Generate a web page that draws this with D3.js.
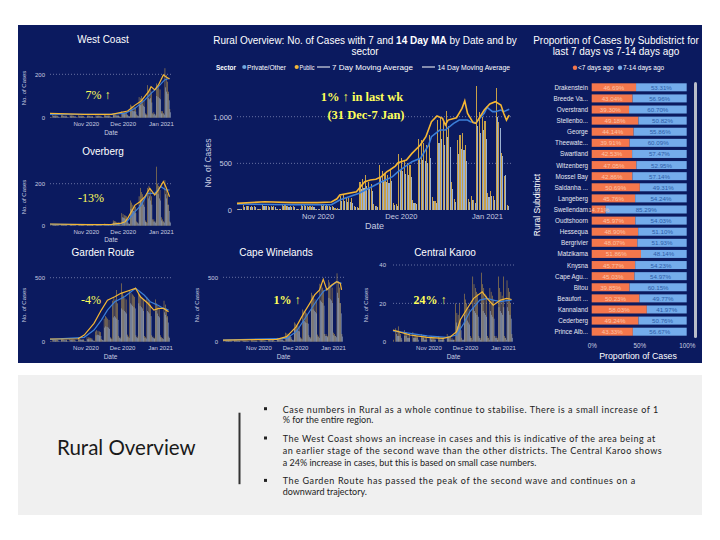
<!DOCTYPE html>
<html><head><meta charset="utf-8">
<script src="https://cdn.jsdelivr.net/npm/d3@7"></script>
<style>body{margin:0;background:#fff}svg{display:block}</style>
</head><body>
<svg id="c" width="720" height="540"></svg>
<script>
// ---------- DATA (daily from 2020-10-03) ----------
const startDay = new Date(2020, 9, 3);
const endDay = new Date(2021, 0, 10);
const monthTicks = ["2020-11-01", "2020-12-01", "2021-01-01"];

const mainPublic = [12,8,50,48,45,42,38, 10,7,52,46,44,42,40, 12,9,55,50,47,44,40, 11,8,50,52,48,45,42, 14,9,56,52,50,47,44, 25,18,150,160,140,130,125, 40,30,300,330,380,300,280, 60,45,480,420,400,380,430, 80,60,600,560,520,500,480, 110,80,760,750,720,700,800, 140,100,960,1000,940,1060,900, 300,120,750,800,830,700,120, 150,110,1325,1050,1000,950,180, 200,150,1310,940,610,360,50];
const mainPrivate = [8,6,35,40,36,34,30, 8,5,40,38,35,33,28, 9,7,42,40,35,32,30, 8,6,38,40,36,34,31, 10,7,42,40,38,36,33, 15,12,95,100,90,85,80, 28,22,220,240,260,220,200, 40,32,350,320,300,290,310, 55,45,430,420,390,370,350, 80,60,560,540,520,500,560, 100,75,720,760,700,780,680, 220,90,600,650,640,520,90, 110,80,900,820,860,760,140, 150,110,1000,880,580,380,40];
const mainMA7 = [[0,71],[10,89],[20,79],[29,79],[34,86],[36,120],[37,161],[43,196],[44,232],[46,304],[48,321],[50,329],[52,357],[54,411],[55,429],[57,471],[58,507],[61,536],[63,607],[66,696],[68,786],[70,946],[72,1007],[74,982],[75,911],[76,964],[79,989],[81,1089],[82,1171],[83,1036],[85,936],[86,929],[89,1071],[91,1136],[93,1161],[95,1125],[96,1036],[97,964],[98,1018]];
const mainMA14 = [[0,64],[20,57],[34,57],[37,107],[44,179],[51,286],[56,357],[58,411],[63,518],[66,554],[69,696],[70,786],[73,857],[75,857],[78,929],[80,964],[83,964],[84,946],[86,936],[89,1036],[90,1100],[92,1054],[93,1054],[95,1071],[96,1054],[98,1079]];

const wcPublic = [3,2,14,12,11,10,9, 3,2,13,12,10,10,9, 3,2,12,11,10,9,8, 2,2,11,10,10,9,8, 2,2,10,10,9,9,8, 2,2,11,10,10,9,9, 3,2,13,12,12,11,10, 4,3,18,16,15,14,13, 6,4,30,28,26,25,24, 10,7,60,55,52,50,48, 15,10,95,90,100,85,80, 20,15,150,130,140,120,20, 25,15,158,135,140,130,30, 30,20,228,197,166,120,40];
const wcPrivate = [2,1,8,7,6,6,5, 2,1,7,7,6,5,5, 2,1,7,6,6,5,5, 2,1,6,6,5,5,4, 1,1,6,6,5,5,4, 1,1,6,6,6,5,5, 2,1,8,7,7,6,6, 3,2,11,10,9,9,8, 4,3,18,17,16,15,14, 7,5,35,32,30,30,28, 10,7,60,58,62,55,50, 14,10,90,85,90,70,15, 18,10,100,95,90,85,20, 20,14,140,120,110,80,25];
const wcMA7 = [[0,20],[28,15],[50,15],[63,31],[69,58],[74,77],[80,120],[82,143],[85,128],[88,151],[92,197],[94,189],[97,178]];
const wcMA14 = [[0,15],[50,17],[61,20],[69,43],[77,82],[82,112],[88,143],[93,174],[97,182]];

const obPublic = [2,1,8,7,6,6,5, 2,1,7,7,6,5,5, 1,1,7,6,6,5,5, 1,1,6,6,5,5,4, 1,1,6,6,5,5,5, 2,1,8,7,7,6,6, 2,2,10,9,9,8,8, 4,3,25,22,20,18,16, 8,6,60,55,50,48,45, 15,10,120,110,100,95,90, 20,15,140,180,160,150,130, 25,18,180,190,170,140,30, 30,20,281,200,190,170,40, 30,20,217,180,150,100,20];
const obPrivate = [1,1,5,4,4,3,3, 1,1,4,4,3,3,3, 1,1,4,4,3,3,3, 1,1,4,3,3,3,2, 1,1,4,3,3,3,3, 1,1,5,4,4,4,3, 1,1,6,6,5,5,5, 3,2,15,14,12,11,10, 6,4,40,38,35,32,30, 10,8,80,75,70,65,60, 15,10,100,120,110,100,90, 18,12,130,140,120,100,20, 20,14,160,150,130,120,25, 20,15,150,130,100,70,15];
const obMA7 = [[0,8],[30,5],[50,6],[58,12],[61,19],[63,35],[69,98],[73,114],[77,138],[81,178],[85,146],[88,170],[92,210],[94,186],[97,138]];
const obMA14 = [[0,7],[50,5],[58,10],[63,24],[69,67],[74,98],[79,154],[85,154],[90,186],[94,170],[97,170]];

const grPublic = [4,3,20,18,17,16,15, 4,3,22,20,18,17,16, 4,3,20,19,18,17,16, 5,4,25,24,22,20,19, 6,5,35,34,32,30,28, 10,8,80,90,85,80,75, 20,15,180,200,190,180,170, 35,25,320,340,330,404,300, 45,35,456,380,360,340,330, 55,40,404,380,370,360,350, 50,40,380,370,360,340,330, 45,35,350,330,310,290,50, 40,30,330,300,280,260,50, 35,28,320,290,260,200,40];
const grPrivate = [3,2,12,11,10,10,9, 3,2,13,12,11,10,10, 3,2,12,12,11,10,9, 3,2,15,14,13,12,11, 4,3,20,19,18,17,16, 7,5,50,55,52,48,45, 14,10,110,120,115,110,100, 25,18,190,200,190,180,170, 30,25,260,250,240,230,220, 40,30,300,290,280,270,260, 35,28,300,280,270,260,240, 30,25,240,230,220,200,35, 28,22,240,220,200,190,35, 25,20,230,210,190,150,30];
const grMA7 = [[0,21],[23,23],[28,52],[36,143],[42,247],[47,325],[53,351],[58,378],[66,404],[70,417],[74,351],[80,300],[85,247],[89,260],[93,260],[97,234]];
const grMA14 = [[0,18],[28,34],[36,91],[42,169],[47,247],[53,312],[61,351],[70,417],[77,365],[82,312],[88,286],[93,260],[97,247]];

const cwPublic = [3,2,12,11,10,9,8, 3,2,12,10,10,9,8, 3,2,11,10,9,9,8, 3,2,12,11,10,10,9, 3,2,14,13,12,11,10, 4,3,18,17,16,15,14, 6,4,30,28,26,25,24, 10,8,70,65,60,55,52, 20,15,150,140,130,125,120, 35,25,250,240,230,220,210, 50,35,380,360,340,330,320, 55,40,450,440,420,400,60, 60,45,480,460,440,420,70, 60,45,531,470,420,300,60];
const cwPrivate = [2,1,8,7,7,6,6, 2,1,7,7,6,6,5, 2,1,7,6,6,5,5, 2,1,8,7,7,6,6, 2,2,9,8,8,7,7, 3,2,12,11,10,10,9, 4,3,20,18,17,16,15, 7,5,45,42,40,38,35, 14,10,100,95,90,85,80, 25,18,170,160,150,145,140, 35,25,260,250,240,230,220, 40,30,320,310,300,280,45, 45,35,340,330,320,300,50, 45,35,380,340,300,220,40];
const cwMA7 = [[0,13],[44,18],[52,39],[60,117],[66,220],[71,298],[75,363],[79,402],[82,484],[85,402],[89,440],[93,466],[96,453],[97,402]];
const cwMA14 = [[0,13],[52,26],[60,78],[68,194],[77,324],[82,389],[88,427],[93,466],[97,453]];

const ckPublic = [1,0,7,6,8,5,4, 1,0,6,5,5,4,4, 0,0,5,4,4,3,3, 0,0,4,3,3,3,2, 0,0,3,3,2,2,2, 0,0,3,2,2,2,2, 0,0,4,3,3,3,2, 1,1,20,15,14,20,12, 2,1,25,22,20,18,17, 3,2,34,30,28,26,25, 3,2,36,30,28,25,24, 3,2,28,26,24,22,3, 3,2,34,28,26,24,34, 3,2,32,28,26,20,4];
const ckPrivate = [0,0,4,3,3,3,2, 0,0,3,3,2,2,2, 0,0,2,2,2,2,1, 0,0,2,2,1,1,1, 0,0,2,1,1,1,1, 0,0,1,1,1,1,1, 0,0,2,2,1,1,1, 1,0,10,8,8,10,6, 1,1,14,12,11,10,9, 2,1,18,16,15,14,13, 2,1,20,16,15,14,13, 2,1,16,14,13,12,2, 2,1,18,16,15,14,18, 2,1,18,16,14,12,2];
const ckMA7 = [[0,6],[14,3.5],[28,2.3],[41,1.7],[47,2.6],[52,5.2],[55,11.3],[60,16.5],[66,22.6],[73,26],[77,22.6],[82,19],[88,21.7],[93,22.6],[97,22]];
const ckMA14 = [[0,5.6],[28,3],[44,2.3],[52,3.5],[58,9.6],[63,15.7],[71,21.7],[77,22.6],[82,21.7],[88,20.9],[93,21.4],[97,21.7]];

const subNames = ["Drakenstein","Breede Va...","Overstrand","Stellenbo...","George","Theewate...","Swartland","Witzenberg","Mossel Bay","Saldanha ...","Langeberg","Swellendam","Oudtshoorn","Hessequa","Bergrivier","Matzikama","Knysna","Cape Agu...","Bitou","Beaufort ...","Kannaland","Cederberg","Prince Alb..."];
const pctRecent = [46.69,43.04,39.30,49.18,44.14,39.91,42.53,47.05,42.86,50.69,45.76,14.71,45.97,48.90,48.07,51.86,45.77,45.03,39.85,50.23,58.03,49.24,43.33];
const pctPrior = [53.31,56.96,60.70,50.82,55.86,60.09,57.47,52.95,57.14,49.31,54.24,85.29,54.03,51.10,51.93,48.14,54.23,54.97,60.15,49.77,41.97,50.76,56.67];
const pctTicks = [0, 50, 100];

const bulletLines = [
  ["Case numbers in Rural as a whole continue to stabilise. There is a small increase of 1", "% for the entire region."],
  ["The West Coast shows an increase in cases and this is indicative of the area being at", "an earlier stage of the second wave than the other districts. The Central Karoo shows", "a 24% increase in cases, but this is based on small case numbers."],
  ["The Garden Route has passed the peak of the second wave and continues on a", "downward trajectory."]
];

// ---------- DRAW ----------
const svg = d3.select("#c");
const SANS = "'Liberation Sans', Arial, sans-serif";
const SERIF = "'Liberation Serif', 'Times New Roman', serif";
const NAVY = "#0b1a5f";
const AX = "#c9cde0";
const GOLD = "#d9ab45", LBLUE = "#a9bfdc", LINE7 = "#f6b733", LINE14 = "#3c7fd8", YEL = "#ffff5a";
const parse = d3.timeParse("%Y-%m-%d");
const dayDate = i => d3.timeDay.offset(startDay, i);

svg.append("rect").attr("x", 18).attr("y", 25).attr("width", 684).attr("height", 338).attr("fill", NAVY);

function txt(x, y, s, size, opts = {}) {
  const t = svg.append("text").attr("x", x).attr("y", y).text(s)
    .attr("font-family", opts.family || SANS).attr("font-size", size)
    .attr("font-weight", opts.weight || "normal")
    .attr("fill", opts.fill || "#fff").attr("text-anchor", opts.anchor || "middle")
    .attr("dominant-baseline", "central");
  if (opts.len) t.attr("textLength", opts.len).attr("lengthAdjust", "spacingAndGlyphs");
  return t;
}

function panel(o) {
  const x = d3.scaleTime().domain([startDay, endDay]).range([o.x0, o.x1]);
  const y = d3.scaleLinear().domain([0, o.yRef]).range([o.yZero, o.yRefPix]);
  const g = svg.append("g");
  g.selectAll("line.grid").data(o.ticks.filter(v => v > 0)).join("line")
    .attr("x1", o.x0).attr("x2", o.x1).attr("y1", d => y(d)).attr("y2", d => y(d))
    .attr("stroke", "#7f88b4").attr("stroke-width", 0.8).attr("stroke-dasharray", "1,2");
  const bw = x(dayDate(1)) - x(startDay);
  const bars = g.append("g").attr("shape-rendering", o.crisp ? "crispEdges" : "auto");
  bars.selectAll("rect.pub").data(o.pub).join("rect")
    .attr("x", (d, i) => x(dayDate(i)) + bw * 0.08).attr("width", bw * 0.4)
    .attr("y", d => y(d)).attr("height", d => o.yZero - y(d))
    .attr("fill", GOLD).attr("opacity", o.op);
  bars.selectAll("rect.prv").data(o.prv).join("rect")
    .attr("x", (d, i) => x(dayDate(i)) + bw * 0.5).attr("width", bw * 0.4)
    .attr("y", d => y(d)).attr("height", d => o.yZero - y(d))
    .attr("fill", LBLUE).attr("opacity", o.op);
  const line = d3.line().x(d => x(dayDate(d[0]))).y(d => y(d[1]));
  g.append("path").datum(o.ma14).attr("d", line).attr("fill", "none").attr("stroke", LINE14).attr("stroke-width", o.lw);
  g.append("path").datum(o.ma7).attr("d", line).attr("fill", "none").attr("stroke", LINE7).attr("stroke-width", o.lw);
  const ya = g.append("g").attr("transform", `translate(${o.x0},0)`)
    .call(d3.axisLeft(y).tickValues(o.ticks).tickSize(0).tickPadding(o.ypad).tickFormat(d3.format(",")));
  ya.select(".domain").remove();
  ya.selectAll("text").attr("fill", AX).attr("font-size", o.fs).attr("font-family", SANS);
  const xa = g.append("g").attr("transform", `translate(0,${o.yZero})`)
    .call(d3.axisBottom(x).tickValues(monthTicks.map(parse)).tickSize(0).tickPadding(o.xpad).tickFormat(d3.timeFormat("%b %Y")));
  xa.select(".domain").remove();
  xa.selectAll("text").attr("fill", AX).attr("font-size", o.fs).attr("font-family", SANS);
  txt((o.x0 + o.x1) / 2, o.dateY, "Date", o.dfs, { fill: AX });
  svg.append("text").attr("transform", `translate(${o.ytX},${o.ytY}) rotate(-90)`)
    .attr("text-anchor", "middle").attr("dominant-baseline", "central")
    .attr("font-family", SANS).attr("font-size", o.yfs).attr("fill", AX).text("No. of Cases");
  if (o.title) txt(o.title[0], o.title[1], o.title[2], 10);
}

// main chart
panel({ x0: 237, x1: 512, yZero: 210, yRef: 1000, yRefPix: 116.7, ticks: [0, 500, 1000],
  pub: mainPublic, prv: mainPrivate, ma7: mainMA7, ma14: mainMA14, lw: 1.6, crisp: true, op: 0.92,
  ypad: 5, xpad: 4, fs: 7.5, dateY: 225.5, dfs: 9, ytX: 208, ytY: 163, yfs: 8.5 });
txt(365, 40, "", 10).call(t => {
  t.append("tspan").text("Rural Overview: No. of Cases with 7 and ");
  t.append("tspan").attr("font-weight", "bold").text("14 Day MA");
  t.append("tspan").text(" by Date and by");
});
txt(365, 51, "sector", 10);
// legend
txt(216, 67, "Sector", 6.3, { anchor: "start", weight: "bold", len: 20 });
svg.append("circle").attr("cx", 244.3).attr("cy", 67).attr("r", 2.1).attr("fill", "#6fa6e0");
txt(247, 67, "Private/Other", 6.3, { anchor: "start", len: 39 });
svg.append("circle").attr("cx", 296.7).attr("cy", 67).attr("r", 2.1).attr("fill", "#f2b73a");
txt(299.5, 67, "Public", 6.3, { anchor: "start", len: 15 });
svg.append("line").attr("x1", 317).attr("x2", 330).attr("y1", 67).attr("y2", 67).attr("stroke", "#fff").attr("stroke-width", 1);
txt(332, 67, "7 Day Moving Average", 6.3, { anchor: "start", len: 81 });
svg.append("line").attr("x1", 422).attr("x2", 435).attr("y1", 67).attr("y2", 67).attr("stroke", "#fff").attr("stroke-width", 1);
txt(437.5, 67, "14 Day Moving Average", 6.3, { anchor: "start", len: 72.5 });
txt(362, 97, "1% \u2191 in last wk", 12.5, { family: SERIF, weight: "bold", fill: YEL });
txt(366, 115, "(31 Dec-7 Jan)", 12.5, { family: SERIF, weight: "bold", fill: YEL });

// small multiples
const small = { lw: 1.2, ypad: 5, xpad: 4, fs: 6, dfs: 6.5, yfs: 6, crisp: false, op: 1 };
panel(Object.assign({}, small, { x0: 50, x1: 172, yZero: 117.7, yRef: 200, yRefPix: 74.3, ticks: [0, 200],
  pub: wcPublic, prv: wcPrivate, ma7: wcMA7, ma14: wcMA14, dateY: 132, ytX: 24, ytY: 88, title: [103, 39, "West Coast"] }));
panel(Object.assign({}, small, { x0: 50, x1: 172, yZero: 225.7, yRef: 200, yRefPix: 183.7, ticks: [0, 200],
  pub: obPublic, prv: obPrivate, ma7: obMA7, ma14: obMA14, dateY: 239, ytX: 24, ytY: 197, title: [103, 151, "Overberg"] }));
panel(Object.assign({}, small, { x0: 50, x1: 171, yZero: 341.7, yRef: 500, yRefPix: 277.7, ticks: [0, 500],
  pub: grPublic, prv: grPrivate, ma7: grMA7, ma14: grMA14, dateY: 356, ytX: 24, ytY: 305, title: [103, 252, "Garden Route"] }));
panel(Object.assign({}, small, { x0: 223, x1: 344, yZero: 341.7, yRef: 500, yRefPix: 277.3, ticks: [0, 500],
  pub: cwPublic, prv: cwPrivate, ma7: cwMA7, ma14: cwMA14, dateY: 356.5, ytX: 197, ytY: 305, title: [276, 252, "Cape Winelands"] }));
panel(Object.assign({}, small, { x0: 393, x1: 514, yZero: 341.7, yRef: 40, yRefPix: 265, ticks: [0, 20, 40], ypad: 7,
  pub: ckPublic, prv: ckPrivate, ma7: ckMA7, ma14: ckMA14, dateY: 356.5, ytX: 366, ytY: 305, title: [445, 252, "Central Karoo"] }));

txt(98, 95, "7% \u2191", 12, { family: SERIF, fill: YEL });
txt(91, 198, "-13%", 12, { family: SERIF, fill: YEL });
txt(91, 300, "-4%", 12, { family: SERIF, fill: YEL });
txt(287, 300, "1% \u2191", 12, { family: SERIF, weight: "bold", fill: YEL });
txt(430, 300, "24% \u2191", 12, { family: SERIF, weight: "bold", fill: YEL });

// right panel
txt(616, 40, "Proportion of Cases by Subdistrict for", 10);
txt(616, 51, "last 7 days vs 7-14 days ago", 10);
svg.append("circle").attr("cx", 575).attr("cy", 67.7).attr("r", 2.2).attr("fill", "#f4774c");
txt(578, 67.7, "<7 days ago", 6.5, { anchor: "start" });
svg.append("circle").attr("cx", 620).attr("cy", 67.7).attr("r", 2.2).attr("fill", "#74aceb");
txt(623, 67.7, "7-14 days ago", 6.5, { anchor: "start" });

const px = d3.scaleLinear().domain([0, 100]).range([591.7, 686.7]);
const py = d3.scaleBand().domain(subNames).range([81.75, 337.25]).paddingInner(0.28).paddingOuter(0.14);
const rg = svg.append("g");
rg.selectAll("rect.r").data(subNames).join("rect")
  .attr("x", px(0)).attr("width", (d, i) => px(pctRecent[i]) - px(0))
  .attr("y", d => py(d)).attr("height", py.bandwidth()).attr("fill", "#f4774c");
rg.selectAll("rect.p").data(subNames).join("rect")
  .attr("x", (d, i) => px(pctRecent[i])).attr("width", (d, i) => px(pctRecent[i] + pctPrior[i]) - px(pctRecent[i]))
  .attr("y", d => py(d)).attr("height", py.bandwidth()).attr("fill", "#74aceb");
rg.selectAll("text.n").data(subNames).join("text")
  .attr("x", 588).attr("y", d => py(d) + py.bandwidth() / 2).text(d => d)
  .attr("text-anchor", "end").attr("dominant-baseline", "central")
  .attr("font-family", SANS).attr("font-size", 6.3).attr("fill", "#e6e8f2");
rg.selectAll("text.rv").data(subNames).join("text")
  .attr("x", (d, i) => (px(0) + px(pctRecent[i])) / 2).attr("y", d => py(d) + py.bandwidth() / 2)
  .text((d, i) => pctRecent[i].toFixed(2) + "%")
  .attr("text-anchor", "middle").attr("dominant-baseline", "central")
  .attr("font-family", SANS).attr("font-size", 6.2).attr("fill", "#fcc3a6");
rg.selectAll("text.pv").data(subNames).join("text")
  .attr("x", (d, i) => (px(pctRecent[i]) + px(100)) / 2).attr("y", d => py(d) + py.bandwidth() / 2)
  .text((d, i) => pctPrior[i].toFixed(2) + "%")
  .attr("text-anchor", "middle").attr("dominant-baseline", "central")
  .attr("font-family", SANS).attr("font-size", 6.2).attr("fill", "#2f5da8");
const pxa = svg.append("g").attr("transform", "translate(0,341)")
  .call(d3.axisBottom(px).tickValues(pctTicks).tickSize(0).tickPadding(3).tickFormat(d => d + "%"));
pxa.select(".domain").remove();
pxa.selectAll("text").attr("fill", AX).attr("font-size", 6.3).attr("font-family", SANS);
txt(638, 355.5, "Proportion of Cases", 8.8);
svg.append("text").attr("transform", "translate(537,205) rotate(-90)")
  .attr("text-anchor", "middle").attr("dominant-baseline", "central")
  .attr("font-family", SANS).attr("font-size", 8.5).attr("fill", "#fff").text("Rural Subdistrict");
svg.append("rect").attr("x", 694).attr("y", 82).attr("width", 3).attr("height", 256).attr("rx", 1.5).attr("fill", "#b9bdca");

// bottom text box
svg.append("rect").attr("x", 18).attr("y", 375).attr("width", 684).attr("height", 140).attr("fill", "#f0f0f0");
svg.append("text").attr("x", 57).attr("y", 447).text("Rural Overview")
  .attr("font-family", "Lato, 'Open Sans', sans-serif").attr("font-size", 20.5).attr("fill", "#1a1a1a")
  .attr("dominant-baseline", "central");
svg.append("rect").attr("x", 238.5).attr("y", 412.7).attr("width", 2).attr("height", 71.5).attr("fill", "#333");
const lineYs = [[409, 419.5], [438.3, 450.3, 462.5], [480.7, 491]];
const lineW = [[375.6, null], [372.5, 379, null], [352.5, null]];
bulletLines.forEach((para, pi) => {
  svg.append("rect").attr("x", 264).attr("y", lineYs[pi][0] - 1.8).attr("width", 3).attr("height", 3).attr("fill", "#222");
  para.forEach((s, li) => {
    const t = svg.append("text").attr("x", 282.7).attr("y", lineYs[pi][li]).text(s)
      .attr("font-family", "Lato, 'Open Sans', sans-serif").attr("font-size", 9).attr("fill", "#222")
      .attr("dominant-baseline", "central");
    if (lineW[pi][li]) t.attr("textLength", lineW[pi][li]).attr("lengthAdjust", "spacing");
  });
});
</script>
</body></html>
